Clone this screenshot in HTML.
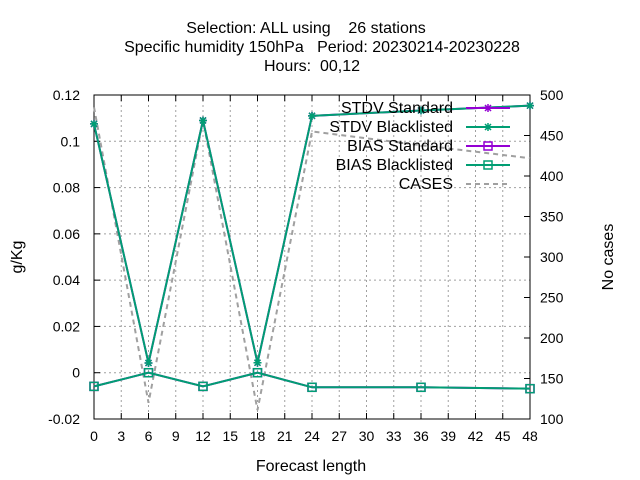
<!DOCTYPE html>
<html><head><meta charset="utf-8"><style>
body{margin:0;background:#fff}
svg{display:block;font-family:"Liberation Sans",sans-serif}
</style></head><body>
<svg id="c" width="640" height="480">
<g font-size="16" text-anchor="middle" xml:space="preserve" style="white-space:pre">
<text x="306" y="33" xml:space="preserve">Selection: ALL using    26 stations</text>
<text x="322" y="52" xml:space="preserve">Specific humidity 150hPa   Period: 20230214-20230228</text>
<text x="312" y="71" xml:space="preserve">Hours:  00,12</text>
</g>
<g id="grid"></g>
<g id="axes"></g>
<g id="series"></g>
<text x="22" y="257" font-size="16" text-anchor="middle" transform="rotate(-90 22 257)">g/Kg</text>
<text x="613" y="257" font-size="16" text-anchor="middle" transform="rotate(-90 613 257)">No cases</text>
<text x="311" y="471" font-size="16" text-anchor="middle">Forecast length</text>
<g id="legend"></g>
</svg>
<script>
const hours=[0,6,12,18,24,36,48];
const stdvStd=[0.1075,0.0042,0.109,0.0043,0.111,0.1133,0.1154];
const stdvBl=[0.1075,0.0042,0.109,0.0043,0.111,0.1133,0.1154];
const biasStd=[-0.0059,0,-0.0059,0,-0.0063,-0.0063,-0.0069];
const biasBl=[-0.0059,0,-0.0059,0,-0.0063,-0.0063,-0.0069];
const cases=[485,120,469,111,455,438,422];
const xTicks=[0,3,6,9,12,15,18,21,24,27,30,33,36,39,42,45,48];
const yTicks=[-0.02,0,0.02,0.04,0.06,0.08,0.1,0.12];
const y2Ticks=[100,150,200,250,300,350,400,450,500];
const L=94,R=530,T=95,B=419;
const X=h=>L+(h/48)*(R-L);
const Y=v=>B-(v+0.02)/0.14*(B-T);
const Y2=v=>B-(v-100)/400*(B-T);
const NS="http://www.w3.org/2000/svg";
function mk(p,t,a){const e=document.createElementNS(NS,t);for(const k in a)e.setAttribute(k,a[k]);p.appendChild(e);return e;}
const grid=document.getElementById('grid'),axes=document.getElementById('axes'),ser=document.getElementById('series'),leg=document.getElementById('legend');
xTicks.forEach(h=>{const x=X(h);
 const g=mk(grid,'line',{x1:x,x2:x,y1:T,y2:B,stroke:'#a0a0a0','stroke-dasharray':'2,3','stroke-width':1});
 
 mk(axes,'line',{x1:x,x2:x,y1:B,y2:B-6,stroke:'#000'});mk(axes,'line',{x1:x,x2:x,y1:T,y2:T+6,stroke:'#000'});
 const t=mk(axes,'text',{x:x,y:B+22,'font-size':14,'text-anchor':'middle'});t.textContent=h;
 });
yTicks.forEach(v=>{const y=Y(v);
 const g=mk(grid,'line',{x1:L,x2:R,y1:y,y2:y,stroke:'#a0a0a0','stroke-dasharray':'2,3','stroke-width':1});
 
 mk(axes,'line',{x1:L,x2:L+6,y1:y,y2:y,stroke:'#000'});
 const t=mk(axes,'text',{x:80,y:y+5,'font-size':14,'text-anchor':'end'});t.textContent=(Math.abs(v)<1e-9?'0':String(+v.toFixed(2)));
 });
y2Ticks.forEach(v=>{const y=Y2(v);
 mk(axes,'line',{x1:R,x2:R-6,y1:y,y2:y,stroke:'#000'});
 const t=mk(axes,'text',{x:540,y:y+5,'font-size':14});t.textContent=v;
 });
mk(axes,'rect',{x:L,y:T,width:R-L,height:B-T,fill:'none',stroke:'#000','stroke-width':1});
function pts(arr,f){return arr.map((v,i)=>X(hours[i])+','+f(v)).join(' ');}
const cl=mk(ser,'polyline',{points:pts(cases,Y2),fill:'none',stroke:'#a0a0a0','stroke-width':2,'stroke-dasharray':'5,4'});

function star(p,x,y,c){mk(p,'path',{d:`M${x-4},${y}h8M${x},${y-4}v8M${x-3},${y-3}l6,6M${x-3},${y+3}l6,-6`,stroke:c,'stroke-width':1.5,fill:'none'});}
function sq(p,x,y,c){mk(p,'rect',{x:x-4,y:y-4,width:8,height:8,fill:'none',stroke:c,'stroke-width':1.5});}
function series(arr,c,mark,name){const g=mk(ser,'g',{});
 
 mk(g,'polyline',{points:pts(arr,Y),fill:'none',stroke:c,'stroke-width':2});
 arr.forEach((v,i)=>mark(g,X(hours[i]),Y(v),c));}
series(stdvStd,'#9400d3',star,'stdv-standard-line');
series(biasStd,'#9400d3',sq,'bias-standard-line');
series(stdvBl,'#009e73',star,'stdv-blacklisted-line');
series(biasBl,'#009e73',sq,'bias-blacklisted-line');
const items=[['STDV Standard','#9400d3',star,0],['STDV Blacklisted','#009e73',star,0],['BIAS Standard','#9400d3',sq,0],['BIAS Blacklisted','#009e73',sq,0],['CASES','#a0a0a0',null,1]];
items.forEach((it,i)=>{const y=108+i*19;const g=mk(leg,'g',{});
 
 const t=mk(g,'text',{x:453,y:y+5,'font-size':16,'text-anchor':'end'});t.textContent=it[0];
 if(it[3]===1)mk(g,'line',{x1:466,x2:510,y1:y,y2:y,stroke:it[1],'stroke-width':2,'stroke-dasharray':'5,4'});
 else{mk(g,'line',{x1:466,x2:510,y1:y,y2:y,stroke:it[1],'stroke-width':2});it[2](g,488,y,it[1]);}});
</script>
</body></html>
